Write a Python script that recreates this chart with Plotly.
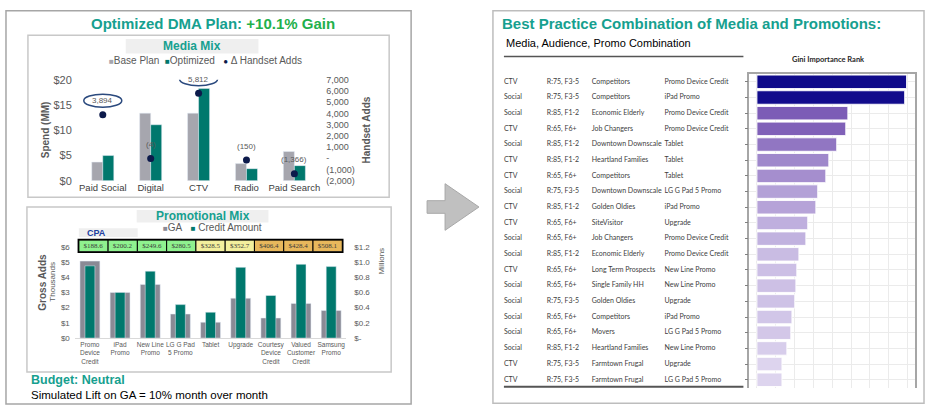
import plotly.graph_objects as go

# ---------------- DATA ----------------
media_cats = ["Paid Social", "Digital", "CTV", "Radio", "Paid Search"]
base_plan = [3.7, 13.4, 13.4, 3.4, 5.8]
optimized = [5.0, 11.1, 18.3, 2.4, 3.0]
handset_adds = [3894, -4, 5812, -150, -1366]
handset_labels = ["3,894", "(4)", "5,812", "(150)", "(1,366)"]
highlighted = [True, False, True, False, False]

promo_cats = ["Promo<br>Device<br>Credit", "iPad<br>Promo", "New Line<br>Promo", "LG G Pad<br>5 Promo",
              "Tablet", "Upgrade", "Courtesy<br>Device<br>Credit", "Valued<br>Customer<br>Credit",
              "Samsung<br>Promo"]
ga_thousands = [5.06, 3.0, 3.53, 1.58, 1.04, 2.62, 1.32, 2.28, 1.81]
credit_millions = [0.95, 0.60, 0.88, 0.44, 0.34, 0.93, 0.56, 0.97, 0.94]
cpa_values = [188.6, 200.2, 249.6, 280.5, 328.5, 352.7, 406.4, 428.4, 508.1]
cpa_tier = [0, 0, 0, 0, 1, 1, 2, 2, 2]

left_ticks = [0, 5, 10, 15, 20]
left_ticktext = ["$0", "$5", "$10", "$15", "$20"]
right_ticks = [-2000, -1000, 0, 1000, 2000, 3000, 4000, 5000, 6000, 7000]
right_ticktext = ["(2,000)", "(1,000)", "-", "1,000", "2,000", "3,000", "4,000", "5,000", "6,000", "7,000"]
promo_left_ticks = [0, 1, 2, 3, 4, 5, 6]
promo_left_text = ["$0", "$1", "$2", "$3", "$4", "$5", "$6"]
promo_right_ticks = [0, 0.2, 0.4, 0.6, 0.8, 1.0, 1.2]
promo_right_text = ["$-", "$0.2", "$0.4", "$0.6", "$0.8", "$1.0", "$1.2"]

tbl_media = ["CTV", "Social", "Social", "CTV", "Social", "CTV", "CTV", "Social", "CTV", "CTV",
             "Social", "Social", "CTV", "Social", "Social", "Social", "Social", "Social", "CTV", "CTV"]
tbl_reach = ["R:75, F3-5", "R:75, F3-5", "R:85, F1-2", "R:65, F6+", "R:85, F1-2", "R:85, F1-2",
             "R:65, F6+", "R:75, F3-5", "R:85, F1-2", "R:65, F6+", "R:65, F6+", "R:85, F1-2",
             "R:65, F6+", "R:65, F6+", "R:75, F3-5", "R:65, F6+", "R:65, F6+", "R:85, F1-2",
             "R:75, F3-5", "R:75, F3-5"]
tbl_audience = ["Competitors", "Competitors", "Economic Elderly", "Job Changers", "Downtown Downscale",
                "Heartland Families", "Competitors", "Downtown Downscale", "Golden Oldies", "SiteVisitor",
                "Job Changers", "Economic Elderly", "Long Term Prospects", "Single Family HH",
                "Golden Oldies", "Competitors", "Movers", "Heartland Families", "Farmtown Frugal",
                "Farmtown Frugal"]
tbl_promo = ["Promo Device Credit", "iPad Promo", "Promo Device Credit", "Promo Device Credit", "Tablet",
             "Tablet", "Tablet", "LG G Pad 5 Promo", "iPad Promo", "Upgrade", "Promo Device Credit",
             "Promo Device Credit", "New Line Promo", "New Line Promo", "Upgrade", "iPad Promo",
             "LG G Pad 5 Promo", "New Line Promo", "Upgrade", "LG G Pad 5 Promo"]
tbl_headers = ["Media", "Reach/Freq", "Audience", "Promo Type"]
gini_importance = [0.0795, 0.0785, 0.0483, 0.0472, 0.0424, 0.0382, 0.0366, 0.0323, 0.0313, 0.0270,
                   0.0260, 0.0223, 0.0212, 0.0207, 0.0201, 0.0186, 0.0180, 0.0159, 0.0133, 0.0133]

# ---------------- HELPERS ----------------
W, H = 936, 414


def px(x):
    return x / W


def py(y):
    return 1 - y / H


ARIAL = "Arial, Liberation Sans, sans-serif"
LATO = "Lato, Carlito, sans-serif"
TEAL_T = "#16a08f"
GRAY_T = "#595959"
BAR_TEAL = "#00786d"

fig = go.Figure()

# ---------------- MEDIA MIX ----------------
mx = list(range(len(media_cats)))
fig.add_trace(go.Bar(x=mx, y=base_plan, width=0.23, offset=-0.23, marker_color="#a6a6ae",
                     xaxis="x", yaxis="y", showlegend=False))
fig.add_trace(go.Bar(x=mx, y=optimized, width=0.23, offset=0.0, marker_color=BAR_TEAL,
                     xaxis="x", yaxis="y", showlegend=False))
fig.add_trace(go.Scatter(x=mx, y=handset_adds, mode="markers", cliponaxis=False,
                         marker=dict(size=7, color="#0c1a4b"), xaxis="x", yaxis="y2", showlegend=False))

# ---------------- PROMOTIONAL MIX ----------------
pxs = list(range(len(promo_cats)))
fig.add_trace(go.Bar(x=pxs, y=ga_thousands, width=0.66, marker_color="#8a8a95",
                     xaxis="x3", yaxis="y3", showlegend=False))
fig.add_trace(go.Bar(x=pxs, y=credit_millions, width=0.33, marker_color=BAR_TEAL,
                     xaxis="x3", yaxis="y4", showlegend=False))

# CPA row
tier_colors = ["#8ff28f", "#f3f09d", "#e8b85c"]
fig.add_trace(go.Bar(x=pxs, y=[1] * len(cpa_values), base=[0] * len(cpa_values), width=1,
                     marker=dict(color=[tier_colors[t] for t in cpa_tier], line=dict(color="#000", width=1)),
                     text=["$%.1f" % v for v in cpa_values], textposition="inside",
                     insidetextanchor="middle", textangle=0, constraintext="none",
                     textfont=dict(size=7, color="#3a3a3a", family="Liberation Serif, serif"),
                     xaxis="x7", yaxis="y7", showlegend=False, hoverinfo="skip"))

# ---------------- GINI ----------------
rows = list(range(len(gini_importance)))
fig.add_trace(go.Bar(x=gini_importance, y=rows, orientation="h", width=0.86,
                     marker=dict(color=gini_importance, cmin=0.0133, cmax=0.0795,
                                 colorscale=[[0, "#ddd4ee"], [0.29, "#b3a0d7"], [0.53, "#7c5cb6"],
                                             [0.8, "#3d2aa0"], [1, "#0f0a8a"]],
                                 line=dict(color="rgba(255,255,255,0.9)", width=1)),
                     xaxis="x5", yaxis="y5", showlegend=False))

# table text
col_pos = [0, 43, 88, 161]
for cpos, col in zip(col_pos, [tbl_media, tbl_reach, tbl_audience, tbl_promo]):
    fig.add_trace(go.Scatter(x=[cpos] * len(col), y=rows, mode="text", text=col,
                             textposition="middle right", cliponaxis=False,
                             textfont=dict(size=7, color="#404040", family=LATO),
                             xaxis="x6", yaxis="y6", showlegend=False, hoverinfo="skip"))

# ---------------- LAYOUT ----------------
tickf = dict(family=ARIAL, color=GRAY_T)
layout = dict(
    width=W, height=H, autosize=False, margin=dict(l=0, r=0, t=0, b=0),
    paper_bgcolor="white", plot_bgcolor="rgba(0,0,0,0)", barmode="group",
    font=dict(family=ARIAL),
    xaxis=dict(domain=[px(79), px(319)], range=[-0.5, 4.5], tickvals=mx, ticktext=media_cats,
               tickfont=dict(size=9.5, family=ARIAL, color="#404040"), showgrid=False, zeroline=False,
               showline=False, ticks="", anchor="y", tickangle=0),
    yaxis=dict(domain=[py(180), py(76)], range=[0, 20], tickvals=left_ticks, ticktext=left_ticktext,
               tickfont=dict(size=11, **tickf), showgrid=False, zeroline=False, ticks="", anchor="x",
               ticklabelstandoff=6),
    yaxis2=dict(overlaying="y", side="right", anchor="x", range=[-2000, 7000], tickvals=right_ticks,
                ticktext=right_ticktext, tickfont=dict(size=9, **tickf), showgrid=False, zeroline=False,
                ticks="", ticklabelstandoff=7),
    xaxis3=dict(domain=[px(75), px(347)], range=[-0.5, 8.5], tickvals=pxs, ticktext=promo_cats,
                tickfont=dict(size=6.5, **tickf), showgrid=False, zeroline=False, showline=True,
                linecolor="#d9d9d9", linewidth=1, ticks="", anchor="y3", tickangle=0),
    yaxis3=dict(domain=[py(342), py(248)], range=[0, 6], tickvals=promo_left_ticks, ticktext=promo_left_text,
                tickfont=dict(size=8, **tickf), showgrid=False, zeroline=False, ticks="", anchor="x3",
                ticklabelstandoff=4),
    yaxis4=dict(overlaying="y3", side="right", anchor="x3", range=[0, 1.2], tickvals=promo_right_ticks,
                ticktext=promo_right_text, tickfont=dict(size=8, **tickf), showgrid=False, zeroline=False,
                ticks="", ticklabelstandoff=7),
    xaxis7=dict(domain=[px(79), px(343)], range=[-0.5, 8.5], visible=False, anchor="y7"),
    yaxis7=dict(domain=[py(253), py(241)], range=[0, 1], visible=False, anchor="x7"),
    xaxis5=dict(domain=[px(751), px(917)], range=[-0.004, 0.084], dtick=0.01, showgrid=True,
                gridcolor="#ebebeb", zeroline=False, showticklabels=False, side="top", showline=True,
                linecolor="#a6a6a6", linewidth=1.5, ticks="", anchor="y5"),
    yaxis5=dict(domain=[py(393), py(70)], range=[19.5, -0.5], tickvals=rows, showticklabels=False,
                showgrid=True, gridcolor="#ebebeb", zeroline=False, showline=True, mirror=True,
                linecolor="#a6a6a6", linewidth=1.5, ticks="outside", ticklen=3, tickcolor="#808080",
                anchor="x5"),
    xaxis6=dict(domain=[px(505), px(745)], range=[0, 240], visible=False, anchor="y6"),
    yaxis6=dict(domain=[py(393), py(70)], range=[19.5, -0.5], visible=False, anchor="x6"),
)
fig.update_layout(**layout)

# ---------------- SHAPES ----------------
shapes = []


def rect(x0, y0, x1, y1, line="#a6a6a6", lw=1.5, fill=None, layer="below"):
    shapes.append(dict(type="rect", xref="paper", yref="paper", x0=px(x0), x1=px(x1), y0=py(y1), y1=py(y0),
                       line=dict(color=line, width=lw) if lw else dict(width=0),
                       fillcolor=fill if fill else "rgba(0,0,0,0)", layer=layer))


def hline(x0, x1, y, color, width):
    shapes.append(dict(type="line", xref="paper", yref="paper", x0=px(x0), x1=px(x1), y0=py(y), y1=py(y),
                       line=dict(color=color, width=width)))


rect(6, 5, 412, 410, "#a6a6a6", 1.5)
rect(28, 30, 390, 197, "#c8c8c8", 1.5)
rect(27, 207, 392, 377, "#c8c8c8", 1.5)
rect(494, 5, 926, 409, "#bdbdbd", 1.5)
rect(126, 34, 259, 49, None, 0, "#efefef")
rect(137, 210, 269, 223, None, 0, "#efefef")
rect(79, 229, 138, 238, None, 0, "#efefef")
rect(78.5, 240.5, 343.5, 253.5, "#000", 1.5, None, "above")
hline(505, 745, 52, "#555555", 1.5)
hline(505, 745, 392, "#555555", 2)

# ellipses around highlighted handset labels (pixel sized, anchored on data)
for i, (v, h) in enumerate(zip(handset_adds, highlighted)):
    if h:
        shapes.append(dict(type="circle", xref="x", yref="y2", xsizemode="pixel", ysizemode="pixel",
                           xanchor=i, yanchor=v, x0=-19, x1=19, y0=7.5, y1=20.5,
                           line=dict(color="#2b4a7e", width=1.5), layer="above"))

# arrow
pts = [(428, 200.5), (446, 200.5), (446, 183), (480, 207), (446, 231), (446, 213.5), (428, 213.5)]
path = "M " + " L ".join("%f,%f" % (px(a), py(b)) for a, b in pts) + " Z"
shapes.append(dict(type="path", xref="paper", yref="paper", path=path, fillcolor="#c0c0c0",
                   line=dict(color="#a8a8a8", width=1)))

fig.update_layout(shapes=shapes)

# ---------------- ANNOTATIONS ----------------
ann = []


def text(x, y, t, size, color="#000", bold=False, xanchor="center", family=ARIAL, angle=0, yanchor="middle"):
    ann.append(dict(xref="paper", yref="paper", x=px(x), y=py(y), text=("<b>%s</b>" % t) if bold else t,
                    showarrow=False, xanchor=xanchor, yanchor=yanchor, textangle=angle,
                    font=dict(size=size, color=color, family=family)))


# handset labels above dots
for i, (v, lab) in enumerate(zip(handset_adds, handset_labels)):
    ann.append(dict(xref="x", yref="y2", x=i, y=v, text=lab, showarrow=False, yshift=14,
                    xanchor="center", yanchor="middle", font=dict(size=8, color=GRAY_T, family=ARIAL)))

text(213, 18, 'Optimized DMA Plan: <span style="color:#22b04b">+10.1% Gain</span>', 15, TEAL_T, True)
text(192.5, 41.5, "Media Mix", 12, TEAL_T, True)
text(206, 56,
     '<span style="color:#a6a6ae;font-size:8px">■</span>Base Plan&nbsp;&nbsp;'
     '<span style="color:#00786d;font-size:8px">■</span>Optimized&nbsp;&nbsp;&nbsp;'
     '<span style="color:#0c1a4b;font-size:8px">●</span>&nbsp;Δ Handset Adds', 10, GRAY_T)
text(45, 127, "<b>Spend (MM)</b>", 10, GRAY_T, angle=-90)
text(367, 128, "<b>Handset Adds</b>", 10, GRAY_T, angle=-90)

text(203, 216.5, "Promotional Mix", 12, TEAL_T, True)
text(213, 228.5,
     '<span style="color:#8a8a95;font-size:8px">■</span>GA&nbsp;&nbsp;&nbsp;'
     '<span style="color:#00786d;font-size:8px">■</span>&nbsp;Credit Amount', 10, GRAY_T)
text(97, 233.5, "CPA", 9, "#2040a0", True)
text(43, 284, "<b>Gross Adds</b>", 10, GRAY_T, angle=-90)
text(53, 284, "Thousands", 8, GRAY_T, angle=-90)
text(382, 263, "Millions", 8, GRAY_T, angle=-90)

text(29, 385, "Budget: Neutral", 12.5, TEAL_T, True, "left")
text(29, 401, "Simulated Lift on GA = 10% month over month", 11.5, "#000", False, "left")

text(501, 18, "Best Practice Combination of Media and Promotions:", 15, TEAL_T, True, "left")
text(505, 38, "Media, Audience, Promo Combination", 11, "#000", False, "left")
text(830, 55, "Gini Importance Rank", 7.5, "#262626", True, "center", LATO)

for cpos, h in zip(col_pos, tbl_headers):
    ann.append(dict(xref="x6", yref="y6", x=cpos, y=-0.87, text="<b>%s</b>" % h, showarrow=False,
                    xanchor="left", yanchor="middle", font=dict(size=7.5, color="#262626", family=LATO)))

fig.update_layout(annotations=ann)

fig.write_html("out.html")
